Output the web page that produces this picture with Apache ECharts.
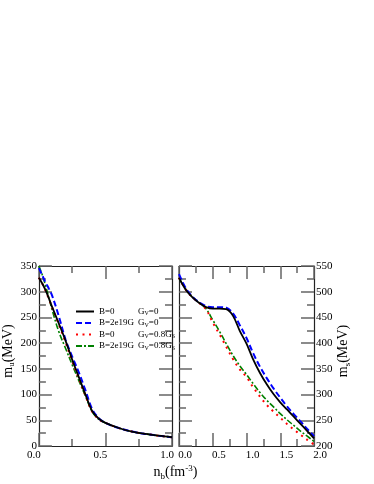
<!DOCTYPE html>
<html>
<head>
<meta charset="utf-8">
<script src="https://cdn.jsdelivr.net/npm/echarts@6/dist/echarts.min.js"></script>
<style>
html, body { margin: 0; padding: 0; background: #fff; }
#chart { width: 374px; height: 484px; }
</style>
</head>
<body>
<div id="chart"></div>
<script>
// left panel: m_u vs n_b
const nbLeft = [0, 0.025, 0.05, 0.075, 0.1, 0.15, 0.2, 0.25, 0.3, 0.35, 0.4, 0.45, 0.5, 0.6, 0.7, 0.8, 0.9, 1.0]
const muB0Gv0 = [327, 316, 303, 287, 270, 238, 205, 168, 134, 100, 68, 53, 45, 35, 28, 23.5, 20, 17]
const muB19Gv0 = [346, 332, 318, 306, 292, 252, 207, 174, 143, 108, 72, 54, 45, 35, 28, 23.5, 20, 17]
const muB0Gv8 = [327, 316, 302, 286, 269, 236, 202, 165, 131, 98, 67, 52, 45, 35, 28, 23.5, 20, 17]
const muB19Gv8 = [350, 333, 312, 288, 264, 222, 190, 158, 127, 97, 67, 52, 45, 35, 28, 23.5, 20, 17]

// right panel: m_s vs n_b
const nbRight = [0, 0.1, 0.2, 0.3, 0.4, 0.5, 0.6, 0.7, 0.8, 0.9, 1.0, 1.1, 1.2, 1.3, 1.4, 1.5, 1.6, 1.7, 1.8, 1.9, 2.0]
const msB0Gv0 = [527, 504, 489, 478, 470, 467, 467, 466, 453, 424, 399, 368, 342, 320, 301, 285, 271, 257, 243, 229, 215]
const msB19Gv0 = [534, 507, 490, 479, 472, 470, 470, 469, 458, 435, 410, 380, 354, 332, 312, 294, 277, 262, 248, 233, 219]
const msB0Gv8 = [527, 504, 489, 478, 466, 440, 417, 393, 369, 349, 334, 314, 296, 280, 267, 255, 243, 232, 222, 212, 203]
const msB19Gv8 = [527, 505, 490, 479, 467, 445, 423, 399, 376, 356, 339, 321, 304, 289, 276, 263, 251, 240, 229, 219, 209]

const seriesNames = ['B=0 Gv=0', 'B=2e19G Gv=0', 'B=0 Gv=0.8Gs', 'B=2e19G Gv=0.8Gs']
const legendTexts = {
  'B=0 Gv=0': '{a|B=0}{g|G}{s|V}{g|=0}',
  'B=2e19G Gv=0': '{a|B=2e19G}{g|G}{s|V}{g|=0}',
  'B=0 Gv=0.8Gs': '{a|B=0}{g|G}{s|V}{g|=0.8G}{s|S}',
  'B=2e19G Gv=0.8Gs': '{a|B=2e19G}{g|G}{s|V}{g|=0.8G}{s|S}'
}

const font = 'Liberation Serif'
const frameColor = '#222'
const tickColor = '#666'

function pairs(xs, ys) {
  return xs.map((x, i) => [x, ys[i]])
}

function axis(opts) {
  return Object.assign({
    type: 'value',
    axisLine: { show: true, onZero: false, lineStyle: { color: frameColor, width: 1.2 } },
    axisTick: { show: true, inside: true, length: 13, lineStyle: { color: tickColor, width: 1.5 } },
    minorTick: { show: true, splitNumber: 2, length: 7, lineStyle: { color: tickColor, width: 1.5 } },
    splitLine: { show: false },
    axisLabel: { show: false }
  }, opts)
}

const labelStyle = { show: true, fontFamily: font, fontSize: 11, color: '#000' }

const lineStyles = [
  { color: '#000000', width: 1.8, type: 'solid' },
  { color: '#0000ff', width: 2, type: [6, 3] },
  { color: '#ff0000', width: 2, type: [2, 4.5] },
  { color: '#008000', width: 1.6, type: [6, 2, 2, 2] }
]

const leftData = [muB0Gv0, muB19Gv0, muB0Gv8, muB19Gv8]
const rightData = [msB0Gv0, msB19Gv0, msB0Gv8, msB19Gv8]

const series = []
seriesNames.forEach((name, i) => {
  series.push({
    name: name, type: 'line', xAxisIndex: 0, yAxisIndex: 0,
    data: pairs(nbLeft, leftData[i]), symbol: 'none', smooth: 0.35,
    lineStyle: lineStyles[i], color: lineStyles[i].color, z: 4 - i
  })
  series.push({
    name: name, type: 'line', xAxisIndex: 2, yAxisIndex: 2,
    data: pairs(nbRight, rightData[i]), symbol: 'none', smooth: 0.35,
    lineStyle: lineStyles[i], color: lineStyles[i].color, z: 4 - i
  })
})

const nameRich = {
  m: { fontFamily: font, fontSize: 14, lineHeight: 17, color: '#000' },
  sb: { fontFamily: font, fontSize: 9, lineHeight: 17, verticalAlign: 'bottom', color: '#000' },
  sp: { fontFamily: font, fontSize: 9, lineHeight: 17, verticalAlign: 'top', color: '#000' }
}

let myChart = echarts.init(document.getElementById('chart'))
myChart.setOption({
  animation: false,
  backgroundColor: '#fff',
  grid: [
    { left: 36, top: 266, width: 136, height: 180 },
    { left: 179, top: 266, width: 135, height: 180 }
  ],
  legend: {
    data: seriesNames,
    orient: 'vertical',
    left: 70,
    top: 302,
    itemWidth: 18,
    itemHeight: 10,
    itemGap: 2,
    selectedMode: false,
    itemStyle: { opacity: 0, borderWidth: 0 },
    formatter: name => legendTexts[name],
    textStyle: {
      rich: {
        a: { fontFamily: font, fontSize: 9, width: 39, lineHeight: 10, color: '#000' },
        g: { fontFamily: font, fontSize: 9, lineHeight: 10, color: '#000' },
        s: { fontFamily: font, fontSize: 6, lineHeight: 10, verticalAlign: 'bottom', color: '#000' }
      }
    }
  },
  xAxis: [
    axis({
      gridIndex: 0, position: 'bottom', min: 0, max: 1, interval: 0.5,
      axisLabel: Object.assign({}, labelStyle, { margin: 4, padding: [0, 10, 0, 0], formatter: v => v.toFixed(1) }),
      name: '{m|n}{sb|b}{m|(fm}{sp|-3}{m|)}',
      nameLocation: 'middle',
      nameGap: 18,
      nameTextStyle: { padding: [0, 0, 0, 140], rich: nameRich }
    }),
    axis({ gridIndex: 0, position: 'top', min: 0, max: 1, interval: 0.5 }),
    axis({
      gridIndex: 1, position: 'bottom', min: 0, max: 2, interval: 0.5,
      axisLabel: Object.assign({}, labelStyle, { margin: 4, padding: [0, 0, 0, 12], formatter: v => v.toFixed(1) })
    }),
    axis({ gridIndex: 1, position: 'top', min: 0, max: 2, interval: 0.5 })
  ],
  yAxis: [
    axis({
      gridIndex: 0, position: 'left', min: 0, max: 350, interval: 50,
      axisLabel: Object.assign({}, labelStyle, { margin: 2 }),
      name: '{m|m}{sb|u}{m|(MeV)}',
      nameLocation: 'middle',
      nameRotate: 90,
      nameGap: 19,
      nameTextStyle: { padding: [0, 0, 0, 10], rich: nameRich }
    }),
    axis({ gridIndex: 0, position: 'right', min: 0, max: 350, interval: 50 }),
    axis({
      gridIndex: 1, position: 'right', min: 200, max: 550, interval: 50,
      axisLabel: Object.assign({}, labelStyle, { margin: 2 }),
      name: '{m|m}{sb|s}{m|(MeV)}',
      nameLocation: 'middle',
      nameRotate: 90,
      nameGap: 20,
      nameTextStyle: { padding: [0, 0, 0, 10], rich: nameRich }
    }),
    axis({ gridIndex: 1, position: 'left', min: 200, max: 550, interval: 50 })
  ],
  series: series
})
</script>
</body>
</html>
